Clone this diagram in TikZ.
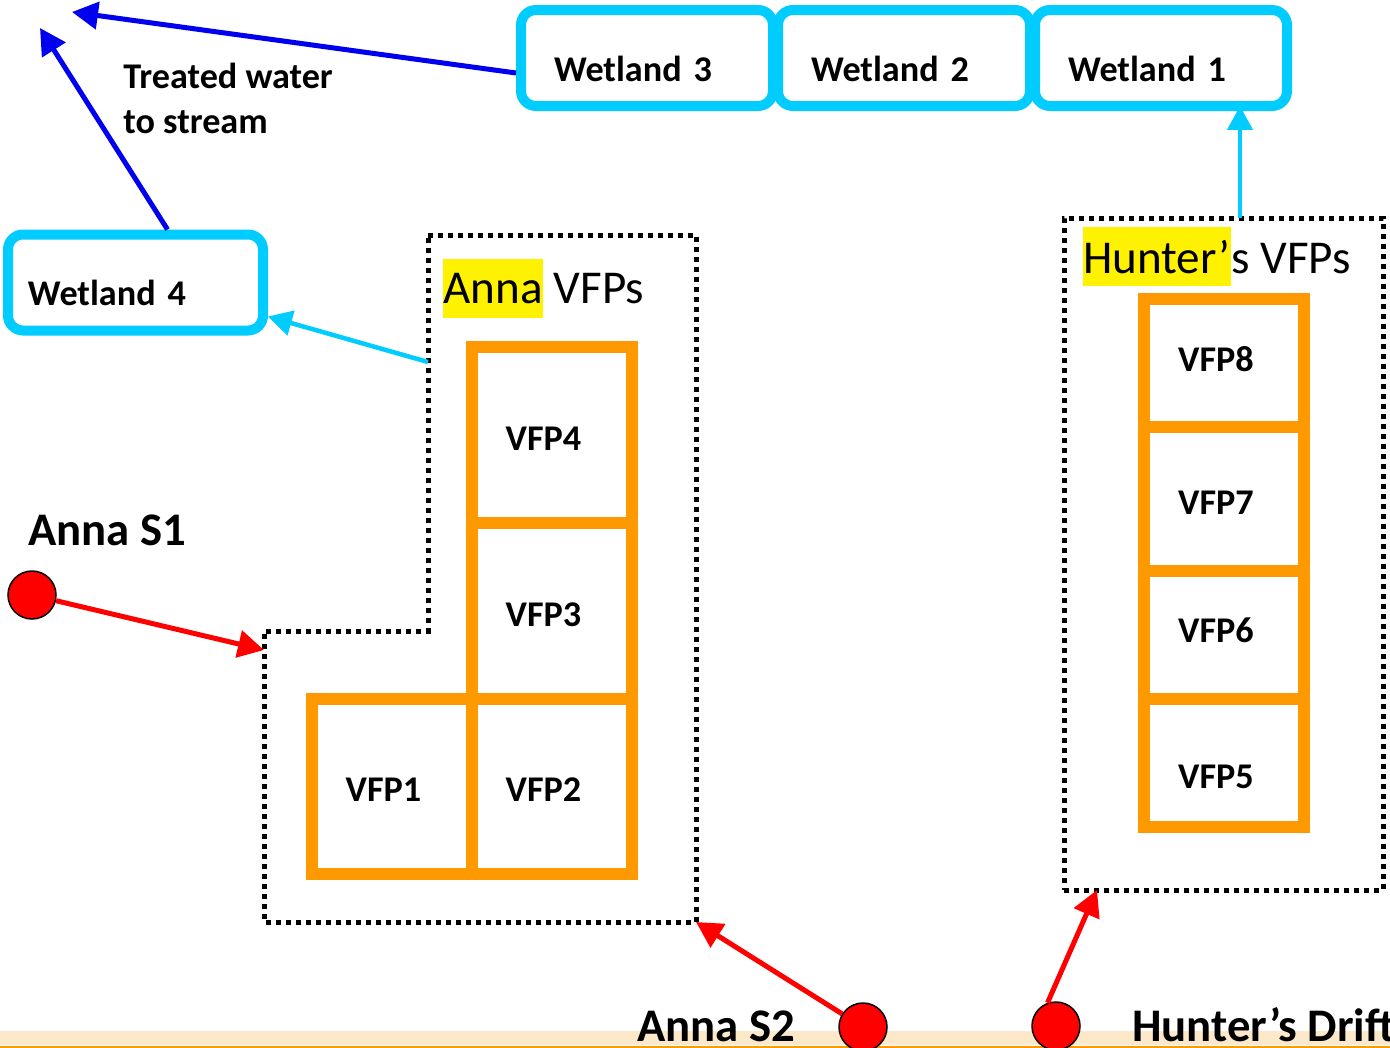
\documentclass[tikz,border=0pt]{standalone}
\usepackage{fontspec}
\setmainfont{Carlito}
\usetikzlibrary{arrows.meta,positioning}
\newlength\pxu
\setlength\pxu{0.02cm}
\definecolor{wlcyan}{RGB}{0,204,255}
\definecolor{vfporange}{RGB}{255,153,0}
\definecolor{flowblue}{RGB}{0,0,238}
\definecolor{stripbg}{RGB}{253,233,201}
\newcommand\lblfont{\fontsize{20.6}{25.5}\selectfont\bfseries}
\newcommand\sitefont{\fontsize{26.6}{32}\selectfont\bfseries}
\newcommand\grpfont{\fontsize{26.8}{32}\selectfont}

\tikzset{
  wetland/.style={draw=wlcyan, line width=10\pxu, rounded corners=15\pxu, outer sep=0pt, minimum height=96\pxu, inner ysep=0pt, inner xsep=33\pxu, text width=186\pxu, align=left, text height=50\pxu, text depth=4\pxu, font=\lblfont},
  vfp/.style={draw=vfporange, line width=12\pxu, outer sep=0pt, inner sep=0pt, minimum width=160\pxu, font=\lblfont, text height=#1, text depth=0pt, execute at end node={\kern16\pxu}},
  vfp/.default=30\pxu,
  dotline/.style={line width=5\pxu, dash pattern=on 5\pxu off 5\pxu},
  site/.style={circle, draw=black, line width=1.5\pxu, fill=red, minimum size=48\pxu, inner sep=0pt},
  hlbox/.style={fill=yellow, inner sep=0pt, text height=44\pxu, text depth=15\pxu, font=\grpfont},
  redarrow/.style={draw=red, line width=5\pxu, -{Triangle[length=0.52cm,width=0.54cm]}},
  bluearrow/.style={draw=flowblue, line width=5\pxu, -{Triangle[length=0.52cm,width=0.54cm]}},
  cyanarrow/.style={draw=wlcyan, line width=4.5\pxu, -{Triangle[length=0.48cm,width=0.5cm]}},
}

\begin{document}
\begin{tikzpicture}[x=0.02cm, y=-0.02cm]
	%%%%% START %%%%%
	\useasboundingbox (0,0) rectangle (1390,1048);
	\clip (0,0) rectangle (1390,1048);
	
	\fill[stripbg] (0,1031) rectangle (1390,1045);
	\fill[vfporange] (0,1046) rectangle (1390,1048);
	
	% wetlands
	\node[wetland] (w3) at (647,58) {Wetland 3};
	\node[wetland, right=5\pxu of w3] (w2) {Wetland 2};
	\node[wetland, right=5\pxu of w2] (w1) {Wetland 1};
	\node[wetland, minimum width=255\pxu, inner xsep=20\pxu, text width=215\pxu] (w4) at (135.5,282.5) {Wetland 4};
	
	\node[anchor=north west, inner sep=0pt, align=left, font=\lblfont] (treated) at (123,63) {Treated water\\to stream};
	
	% Anna VFPs
	\draw[dotline] (428,235) -- (696,235) -- (696,922) -- (264,922) -- (264,631) -- (428,631) -- cycle;
	\coordinate (annain) at (264,650);
	\coordinate (annaout) at (428,362);
	\coordinate (annacorner) at (696,922);
	\node[hlbox, anchor=base west] (annahl) at (443,303) {Anna};
	\node[anchor=base west, inner sep=0pt, font=\grpfont] (annattl) at ([shift={(10.6,0)}]annahl.base east) {VFPs};
	
	\node[vfp, minimum height=176\pxu] (vfp4) at (551.5,435) {VFP4};
	\node[vfp, minimum height=176\pxu, below=0pt of vfp4] (vfp3) {VFP3};
	\node[vfp, minimum height=175\pxu, below=0pt of vfp3] (vfp2) {VFP2};
	\node[vfp, minimum height=175\pxu, left=0pt of vfp2] (vfp1) {VFP1};
	
	% Hunter's VFPs
	\node[draw, dotline, minimum width=319\pxu, minimum height=672\pxu, outer sep=0pt, inner sep=0pt] (hunterbox) at (1223.5,554) {};
	\node[hlbox, anchor=base west, text height=46\pxu, text depth=13\pxu] (hunthl) at (1083,273) {Hunter’};
	\node[anchor=base west, inner sep=0pt, font=\grpfont] (huntttl) at (hunthl.base east) {s VFPs};
	
	\node[vfp=17\pxu, minimum height=128\pxu] (vfp8) at (1224,363) {VFP8};
	\node[vfp=31\pxu, minimum height=144\pxu, below=0pt of vfp8] (vfp7) {VFP7};
	\node[vfp=15\pxu, minimum height=128\pxu, below=0pt of vfp7] (vfp6) {VFP6};
	\node[vfp=50\pxu, minimum height=128\pxu, below=0pt of vfp6] (vfp5) {VFP5};
	
	% sites
	\node[site] (s1) at (32,595) {};
	\node[site] (s2) at (863,1027) {};
	\node[site] (hd) at (1056,1026) {};
	\node[anchor=base west, inner sep=0pt, font=\sitefont] (s1lbl) at (28,545) {Anna S1};
	\node[anchor=base west, inner sep=0pt, font=\sitefont] (s2lbl) at (637,1041) {Anna S2};
	\node[anchor=base west, inner sep=0pt, font=\sitefont] (hdlbl) at (1132,1041) {Hunter’s Drift};
	
	% flows
	\coordinate (stream1) at (72,12);
	\coordinate (stream2) at (40,28);
	\draw[bluearrow] ([shift={(-5,15)}]w3.west) -- (stream1);
	\draw[bluearrow] ([shift={(32,-5)}]w4.north) -- (stream2);
	\draw[cyanarrow] (annaout) -- ([shift={(5,34)}]w4.east);
	\draw[cyanarrow] ([shift={(16.5,0)}]hunterbox.north) -- ([shift={(16.5,0)}]hunterbox.north |- w1.south);
	
	\draw[redarrow] (s1) -- (annain);
	\draw[redarrow] (s2) -- (annacorner);
	\draw[redarrow] (hd.110) -- ([shift={(33,0)}]hunterbox.south west);
	
	%%%%% END %%%%%
\end{tikzpicture}
\end{document}
